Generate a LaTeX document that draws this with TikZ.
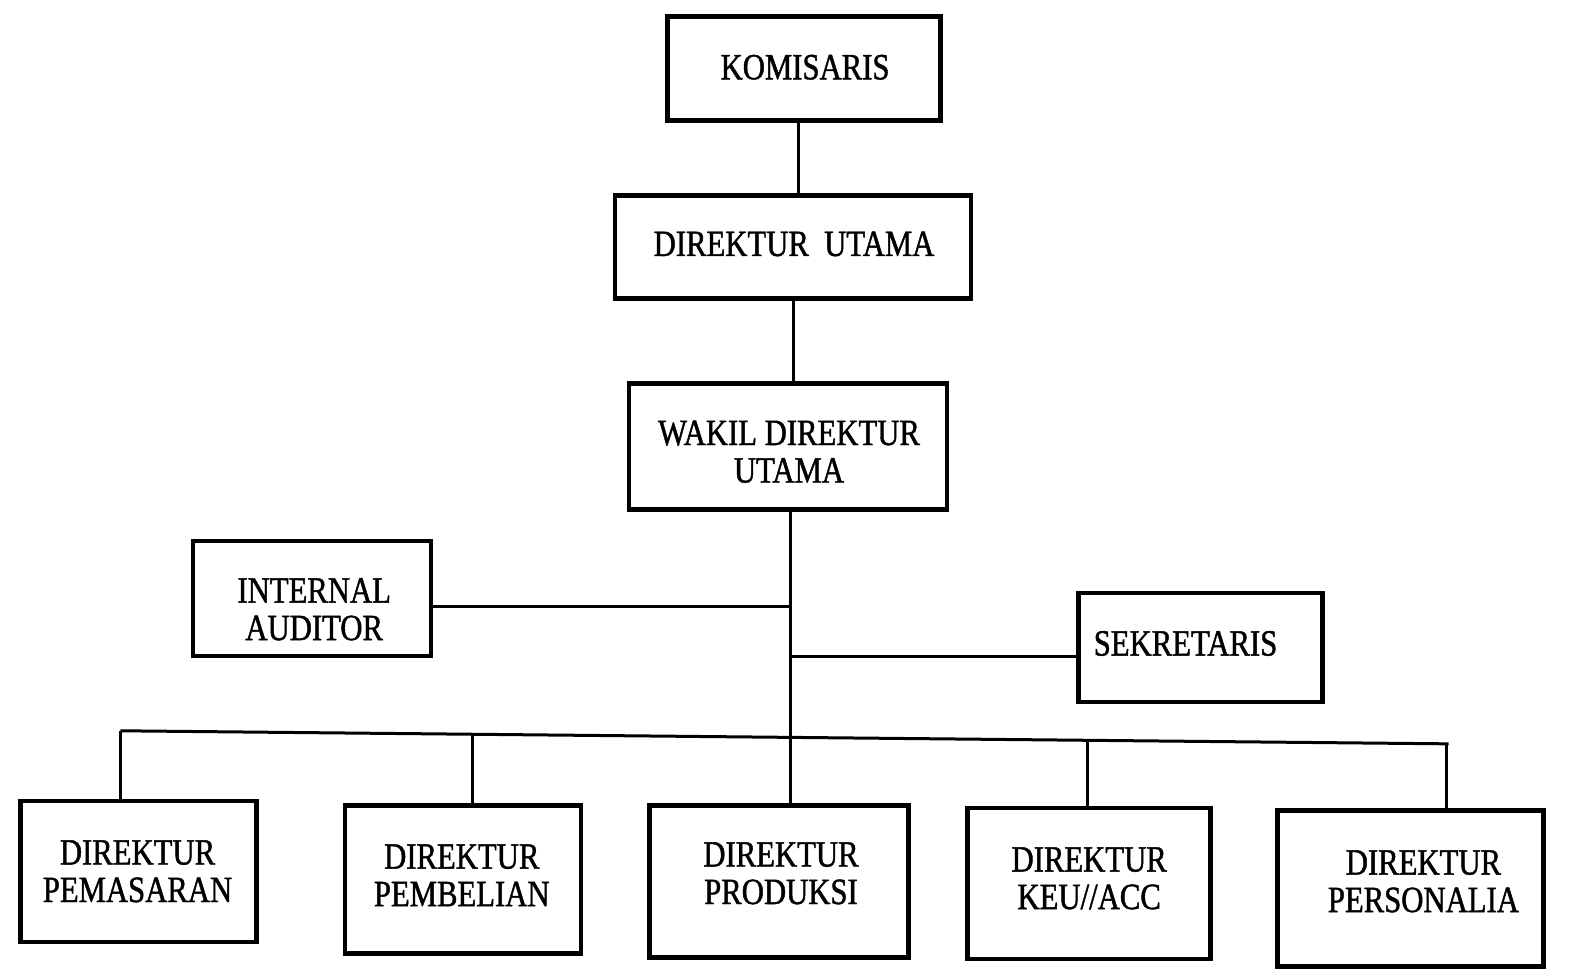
\documentclass[tikz,border=0pt]{standalone}
\usepackage{fontspec}
\setmainfont{Liberation Serif}[FakeStretch=0.83,FakeBold=1.2]
\begin{document}
\begin{tikzpicture}[x=1.0038pt,y=-1.0038pt,
  orgbox/.style={draw=black,line width=4.5pt,rectangle,inner sep=0pt},
  orgtxt/.style={font=\fontsize{37}{37.5}\selectfont,align=center,inner sep=0pt},
  conn/.style={draw=black,line width=3pt}]
\useasboundingbox (0,0) rectangle (1568,970);
% boxes
\node[orgbox,minimum width=273pt,minimum height=104pt] (kom) at (801,68) {};
\node[orgbox,minimum width=356pt,minimum height=103pt] (du) at (790,246) {};
\node[orgbox,minimum width=318pt,minimum height=126pt] (wak) at (785,445) {};
\node[orgbox,minimum width=238pt,minimum height=115pt] (ia) at (311,596) {};
\node[orgbox,minimum width=244pt,minimum height=109pt] (sek) at (1196,645) {};
\node[orgbox,minimum width=236pt,minimum height=141pt] (pem) at (138,868) {};
\node[orgbox,minimum width=236pt,minimum height=148pt] (pbl) at (461,876) {};
\node[orgbox,minimum width=259pt,minimum height=152pt] (prd) at (776,878) {};
\node[orgbox,minimum width=243pt,minimum height=151pt] (keu) at (1085,880) {};
\node[orgbox,minimum width=266pt,minimum height=156pt] (per) at (1405,885) {};
% texts
\node[orgtxt] (komt) at (802,67) {KOMISARIS};
\node[orgtxt] (dut) at (791,243) {DIREKTUR\ \ UTAMA};
\node[orgtxt] (wakt) at (786,450) {WAKIL DIREKTUR\\UTAMA};
\node[orgtxt] (iat) at (313,607) {INTERNAL\\AUDITOR};
\node[orgtxt] (sekt) at (1181,641) {SEKRETARIS};
\node[orgtxt] (pemt) at (137,868) {DIREKTUR\\PEMASARAN};
\node[orgtxt] (pblt) at (460,872) {DIREKTUR\\PEMBELIAN};
\node[orgtxt] (prdt) at (778,870) {DIREKTUR\\PRODUKSI};
\node[orgtxt] (keut) at (1085,875) {DIREKTUR\\KEU//ACC};
\node[orgtxt] (pert) at (1418,878) {DIREKTUR\\PERSONALIA};
% junctions
\coordinate (j1) at (787,604);
\coordinate (j2) at (787,654);
\coordinate (busL) at (120,728);
\coordinate (bP) at (471,731.4);
\coordinate (bK) at (1083,737.5);
\coordinate (busR) at (1443,741);
% connectors
\draw[conn] ([xshift=-6pt]kom.south) -- ([xshift=-6pt]kom.south |- du.north);
\draw[conn] (du.south) -- (du.south |- wak.north);
\draw[conn] ([xshift=2pt]wak.south) -- ([xshift=2pt]wak.south |- prd.north);
\draw[conn] (ia.east |- j1) -- (j1);
\draw[conn] (j2) -- (j2 -| sek.west);
\draw[conn] (busL) -- (busR);
\draw[conn] (busL) -- (busL |- pem.north);
\draw[conn] (bP) -- (bP |- pbl.north);
\draw[conn] (bK) -- (bK |- keu.north);
\draw[conn] ([xshift=-2pt]busR) -- ([xshift=-2pt]busR |- per.north);
\end{tikzpicture}
\end{document}
